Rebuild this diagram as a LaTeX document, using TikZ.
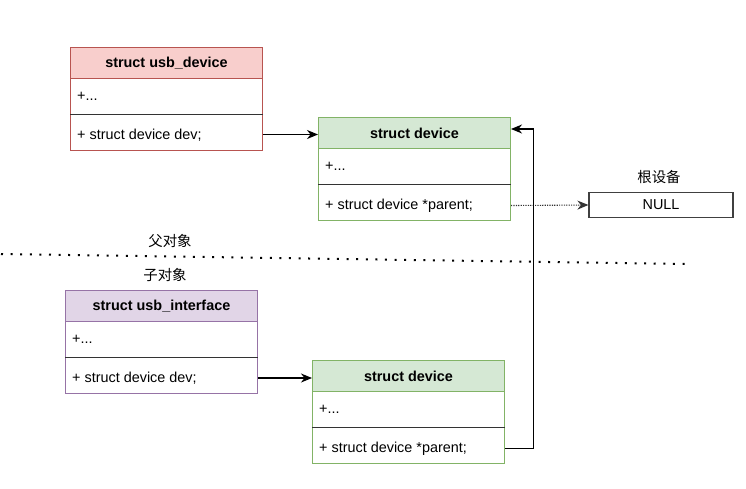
\documentclass[tikz,border=0pt]{standalone}
\usepackage{fontspec}
\setmainfont{Liberation Sans}
\newfontfamily\cjk{Noto Sans CJK SC}
\usetikzlibrary{arrows.meta}
\definecolor{redfill}{HTML}{F8CECC}
\definecolor{redline}{HTML}{B85450}
\definecolor{greenfill}{HTML}{D5E8D4}
\definecolor{greenline}{HTML}{82B366}
\definecolor{purplefill}{HTML}{E1D5E7}
\definecolor{purpleline}{HTML}{9673A6}
\definecolor{sepgray}{HTML}{333333}
\tikzset{
  classframe/.style={draw=#1, fill=white, line width=1pt, inner sep=0pt, anchor=north west,
    minimum width=192pt, minimum height=103pt},
  classhead/.style={line width=1pt, inner sep=0pt, anchor=north west,
    minimum width=192pt, minimum height=31pt, font=\fontsize{14.4}{17}\selectfont\bfseries},
  rowtext/.style={anchor=west, inner sep=0pt, font=\fontsize{14.4}{17}\selectfont},
  sepline/.style={draw=sepgray, line width=1pt},
  plainlabel/.style={inner sep=0pt, font=\fontsize{14.4}{17}\selectfont},
  link/.style={draw=black, line width=1.2pt, -{Stealth[length=11pt,width=9pt,inset=3.5pt]}},
  dottedlink/.style={draw=black!80, line width=1.1pt, dash pattern=on 1.2pt off 1.2pt,
    -{Stealth[length=11pt,width=9pt,inset=3.5pt]}},
  dividerline/.style={draw=black, line width=2pt, dash pattern=on 2pt off 7.6pt},
  nullbox/.style={draw=black!75, line width=1.2pt, fill=white, minimum width=144pt,
    minimum height=25pt, inner sep=0pt, font=\fontsize{14.4}{17}\selectfont}
}
% name, x, y, fill, line, title, row1, row2
\newcommand\umlclass[8]{%
  \node[classframe=#5] (#1) at (#2,#3) {};
  \node[classhead, draw=#5, fill=#4] (#1-head) at (#2,#3) {#6};
  \draw[sepline] ([yshift=-67.5pt]#1.north west) -- ([yshift=-67.5pt]#1.north east);
  \node[rowtext] (#1-r1) at ([xshift=7pt,yshift=-49.5pt]#1.north west) {#7};
  \node[rowtext] (#1-r2) at ([xshift=7pt,yshift=-88.5pt]#1.north west) {#8};
}
\begin{document}
\begin{tikzpicture}[x=1pt,y=-1pt]
\useasboundingbox (0,0) rectangle (746,488);

\umlclass{udev}{70}{47}{redfill}{redline}{struct usb\_device}{+...}{+ struct device dev;}
\umlclass{dtop}{318}{117}{greenfill}{greenline}{struct device}{+...}{+ struct device *parent;}
\umlclass{uif}{65}{290}{purplefill}{purpleline}{struct usb\_interface}{+...}{+ struct device dev;}
\umlclass{dbot}{312}{360}{greenfill}{greenline}{struct device}{+...}{+ struct device *parent;}

\node[nullbox] (null) at (661,205) {NULL};
\node[plainlabel] (rootlbl) at (659,177) {\cjk 根设备};

\node[plainlabel] (parentlbl) at (170,241) {\cjk 父对象};
\node[plainlabel] (childlbl) at (165,275) {\cjk 子对象};
\coordinate (sepL) at (1,254);
\coordinate (sepR) at (686,264);
\draw[dividerline] (sepL) -- (sepR);

\draw[link] ([yshift=-1.5pt]dtop-head.west -| udev.east) -- ([yshift=-1.5pt]dtop-head.west);
\draw[link] ([yshift=-2pt]dbot-head.west -| uif.east) -- ([yshift=-2pt]dbot-head.west);
\draw[dottedlink] (dtop-r2 -| dtop.east) -- (null.west);

\coordinate (bend) at (533.5,129);
\draw[link] (dbot-r2 -| dbot.east) -| (bend) -- (bend -| dtop.east);
\end{tikzpicture}
\end{document}
